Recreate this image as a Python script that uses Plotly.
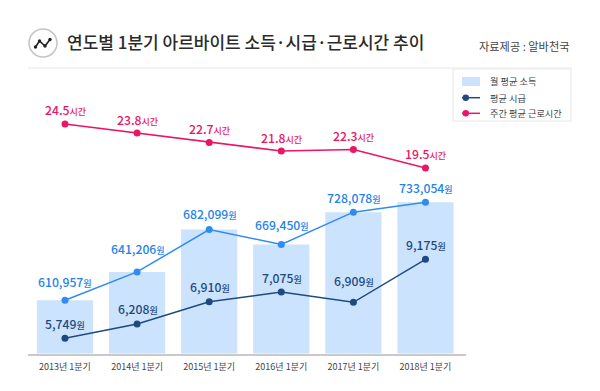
import plotly.graph_objects as go

# ---- data ----
quarters = ["2013년 1분기", "2014년 1분기", "2015년 1분기", "2016년 1분기", "2017년 1분기", "2018년 1분기"]
# printed labels
income_labels = [610957, 641206, 682099, 669450, 728078, 733054]
wage_labels = [5749, 6208, 6910, 7075, 6909, 9175]
hours_labels = [24.5, 23.8, 22.7, 21.8, 22.3, 19.5]
# levels as drawn: the source graphic is not proportional to its printed labels
income_drawn = [610957, 646200, 699000, 680300, 720600, 733054]
wage_drawn = [5749, 6369, 7336, 7757, 7310, 9175]
hours_drawn = [24.5, 23.48, 22.4, 21.43, 21.6, 19.5]

W, H = 600, 391
FONT = "Noto Sans CJK KR"
C_BAR, C_INC, C_WAGE, C_HOUR = "#cce3fe", "#2f8cf2", "#1f4a80", "#ea1566"
xs = list(range(len(quarters)))

fig = go.Figure()
fig.add_bar(x=xs, y=income_drawn, name="월 평균 소득", marker=dict(color=C_BAR, line_width=0), yaxis="y")
fig.add_scatter(x=xs, y=income_drawn, mode="lines+markers", yaxis="y",
                line=dict(color=C_INC, width=1.5), marker=dict(color=C_INC, size=7))
fig.add_scatter(x=xs, y=wage_drawn, mode="lines+markers", name="평균 시급", yaxis="y2",
                line=dict(color=C_WAGE, width=1.5), marker=dict(color=C_WAGE, size=7))
fig.add_scatter(x=xs, y=hours_drawn, mode="lines+markers", name="주간 평균 근로시간", yaxis="y3",
                line=dict(color=C_HOUR, width=1.5), marker=dict(color=C_HOUR, size=7))

annotations = []
def labels(values, levels, axis, color, unit, shifts, fmt):
    for x, v, lv, s in zip(xs, values, levels, shifts):
        annotations.append(dict(
            x=x, y=lv, xref="x", yref=axis, showarrow=False, yshift=s, xshift=0.5, yanchor="middle",
            text=f"{fmt(v)}<span style='font-size:9px'>{unit}</span>",
            font=dict(family=FONT, size=12.2, color=color, weight=500)))

labels(income_labels, income_drawn, "y", "#2484ea", "원", [18.5, 22.5, 15.5, 20, 14.5, 14.5], lambda v: f"{v:,}")
labels(wage_labels, wage_drawn, "y2", C_WAGE, "원", [14.5, 15, 15, 14.5, 21.5, 14.5], lambda v: f"{v:,}")
labels(hours_labels, hours_drawn, "y3", C_HOUR, "시간", [14.5, 13.5, 13.5, 13.5, 14, 14], lambda v: f"{v}")

def px(x): return x/W
def py(y): return 1-y/H

annotations += [
    dict(x=px(65), y=py(42), xref="paper", yref="paper", xanchor="left", yanchor="middle", showarrow=False,
         text="연도별 1분기 아르바이트 소득·시급·근로시간 추이",
         font=dict(family=FONT, size=17, color="#2b2b2b", weight=500)),
    dict(x=px(571), y=py(46), xref="paper", yref="paper", xanchor="right", yanchor="middle", showarrow=False,
         text="자료제공 : 알바천국", font=dict(family=FONT, size=11.2, color="#444444")),
]
for name, ly in [("월 평균 소득", 81.5), ("평균 시급", 97.5), ("주간 평균 근로시간", 113)]:
    annotations.append(dict(x=px(487.5), y=py(ly), xref="paper", yref="paper", xanchor="left", yanchor="middle",
                            showarrow=False, text=name, font=dict(family=FONT, size=9.2, color="#444444")))

shapes = [
    dict(type="line", xref="paper", yref="paper", x0=px(28), x1=px(572), y0=py(68), y1=py(68),
         line=dict(color="#e6e6e6", width=1)),
    dict(type="circle", xref="paper", yref="paper", x0=px(29), x1=px(57), y0=py(29), y1=py(57),
         line=dict(color="#c4c4c4", width=1.5), fillcolor="white"),
    dict(type="path", xref="paper", yref="paper",
         path=f"M {px(35.5)} {py(47)} L {px(39.5)} {py(41)} L {px(45)} {py(46)} L {px(50)} {py(39.5)}",
         line=dict(color="#222222", width=1.6)),
    # legend box and keys
    dict(type="rect", xref="paper", yref="paper", x0=px(453), x1=px(571), y0=py(69), y1=py(121),
         line=dict(color="#efefef", width=1.5), fillcolor="white"),
    dict(type="rect", xref="paper", yref="paper", x0=px(462), x1=px(480), y0=py(77), y1=py(86),
         line_width=0, fillcolor=C_BAR),
]
for ly, c in [(97.7, C_WAGE), (113.3, C_HOUR)]:
    shapes.append(dict(type="line", xref="paper", yref="paper", x0=px(462), x1=px(480), y0=py(ly), y1=py(ly),
                       line=dict(color=c, width=1.5)))
    shapes.append(dict(type="circle", xref="paper", yref="paper", x0=px(462.5), x1=px(469), y0=py(ly-3.2), y1=py(ly+3.2),
                       fillcolor=c, line_width=0))
for cx, cy in [(35.5, 47), (39.5, 41), (45, 46), (50, 39.5)]:
    shapes.append(dict(type="circle", xref="paper", yref="paper", x0=px(cx-1.7), x1=px(cx+1.7),
                       y0=py(cy-1.7), y1=py(cy+1.7), fillcolor="#222222", line_width=0))

dom = [py(353.5), py(100)]
fig.update_layout(
    width=W, height=H, margin=dict(l=0, r=0, t=0, b=0), autosize=False, showlegend=False,
    paper_bgcolor="white", plot_bgcolor="white", bargap=0.22, font=dict(family=FONT),
    xaxis=dict(domain=[px(28), px(465.5)], range=[-0.513, 5.555], tickvals=xs, ticktext=quarters,
               showgrid=False, zeroline=False, showline=True, linecolor="#c9c9c9", linewidth=1.5,
               ticks="", ticklabelstandoff=4, tickfont=dict(family=FONT, size=9, color="#444444")),
    yaxis=dict(domain=dom, range=[544600, 860285], visible=False),
    yaxis2=dict(domain=dom, range=[5090, 16083], visible=False, overlaying="y"),
    yaxis3=dict(domain=dom, range=[-1.58, 27.23], visible=False, overlaying="y"),
    annotations=annotations, shapes=shapes,
)
fig.write_html("out.html", post_script="document.body.style.margin='0';", config={"displayModeBar": False})
